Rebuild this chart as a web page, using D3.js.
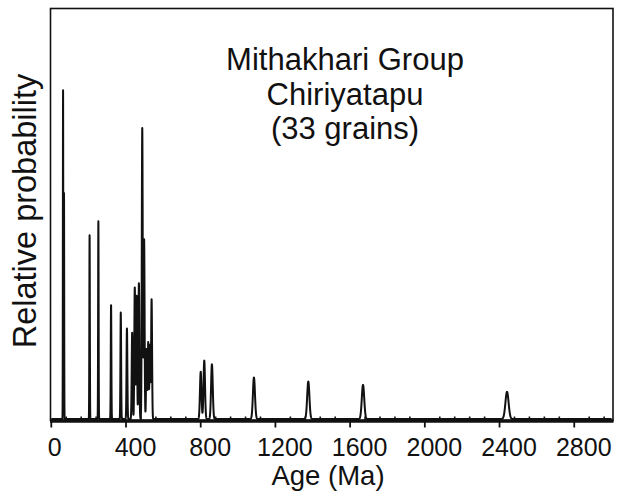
<!DOCTYPE html>
<html>
<head>
<meta charset="utf-8">
<script src="https://cdn.jsdelivr.net/npm/d3@7"></script>
<style>
  body { margin: 0; background: #fff; }
  text { font-family: "Liberation Sans", Arial, Helvetica, sans-serif; fill: #111; }
</style>
</head>
<body>
<svg id="chart" width="617" height="495"></svg>
<script>
// peaks: age (Ma), peak height (% of plot height), spread (Ma)
var peakAges    = [63, 68, 205, 252, 320, 372, 405, 433, 447, 457, 469, 487, 497, 510, 519, 528, 537, 800, 819, 860, 1085, 1376, 1669, 2440];
var peakHeights = [80, 55, 44.7, 48.1, 27.7, 25.9, 22, 21, 32, 30, 33, 70.8, 43.7, 17, 18.7, 18, 29.1, 11.5, 14.2, 13.3, 10.1, 9.1, 8.3, 6.6];
var peakSpread  = [1, 1, 1.3, 1.3, 1.6, 1.8, 2.2, 2.5, 2.5, 2.5, 2.5, 2.5, 2.5, 2.5, 2.5, 2.5, 2.5, 4, 4, 4.5, 5.5, 6, 6.5, 8.5];

var xTicks = [0, 400, 800, 1200, 1600, 2000, 2400, 2800];
var titleLines = ["Mithakhari Group", "Chiriyatapu", "(33 grains)"];

var svg = d3.select("#chart");

var x = d3.scaleLinear().domain([0, 3000]).range([51.3, 611.6]);
var y = d3.scaleLinear().domain([0, 100]).range([419, 8]);

// probability curve = sum of the narrow peaks
var curve = [];
for (var a = 0; a <= 3000; a += 0.25) {
  var p = 0;
  for (var i = 0; i < peakAges.length; i++) {
    var d = (a - peakAges[i]) / peakSpread[i];
    if (Math.abs(d) < 6) p += peakHeights[i] * Math.exp(-0.5 * d * d);
  }
  curve.push([a, p]);
}

var line = d3.line()
  .x(function (d) { return x(d[0]); })
  .y(function (d) { return y(d[1]); });

svg.append("path")
  .datum(curve)
  .attr("d", line)
  .attr("fill", "none")
  .attr("stroke", "#111")
  .attr("stroke-width", 2)
  .attr("stroke-linejoin", "round");

// frame
svg.append("rect")
  .attr("x", 50.5).attr("y", 8.5)
  .attr("width", 562.5).attr("height", 412)
  .attr("fill", "none")
  .attr("stroke", "#111")
  .attr("stroke-width", 1.6);

// minor ticks (every 80 Ma, pointing up)
var minor = d3.range(0, 3001, 80).filter(function (v) { return v % 400 != 0; });
svg.selectAll(".minor").data(minor).enter()
  .append("line")
  .attr("class", "minor")
  .attr("x1", function (d) { return x(d); })
  .attr("x2", function (d) { return x(d); })
  .attr("y1", 421).attr("y2", 416.5)
  .attr("stroke", "#111").attr("stroke-width", 1.6);

// major ticks (pointing down)
svg.selectAll(".major").data(xTicks).enter()
  .append("line")
  .attr("class", "major")
  .attr("x1", function (d) { return x(d); })
  .attr("x2", function (d) { return x(d); })
  .attr("y1", 421).attr("y2", 427.5)
  .attr("stroke", "#111").attr("stroke-width", 1.8);

// thick baseline
svg.append("line")
  .attr("x1", 50).attr("x2", 613.5)
  .attr("y1", 421).attr("y2", 421)
  .attr("stroke", "#111").attr("stroke-width", 3.5);

svg.selectAll(".tlab").data(xTicks).enter()
  .append("text")
  .attr("class", "tlab")
  .attr("x", function (d) { return x(d) + (d == 0 ? 3.5 : 9.5); })
  .attr("y", 456)
  .attr("text-anchor", "middle")
  .attr("font-size", 25)
  .text(function (d) { return d; });

svg.append("text")
  .attr("x", 328).attr("y", 485)
  .attr("text-anchor", "middle")
  .attr("font-size", 27.5)
  .text("Age (Ma)");

svg.append("text")
  .attr("transform", "translate(36,211) rotate(-90)")
  .attr("text-anchor", "middle")
  .attr("font-size", 32.5)
  .text("Relative probability");

svg.selectAll(".title").data(titleLines).enter()
  .append("text")
  .attr("class", "title")
  .attr("x", 345)
  .attr("y", function (d, i) { return 70 + i * 34.5; })
  .attr("text-anchor", "middle")
  .attr("font-size", 31)
  .text(function (d) { return d; });
</script>
</body>
</html>
